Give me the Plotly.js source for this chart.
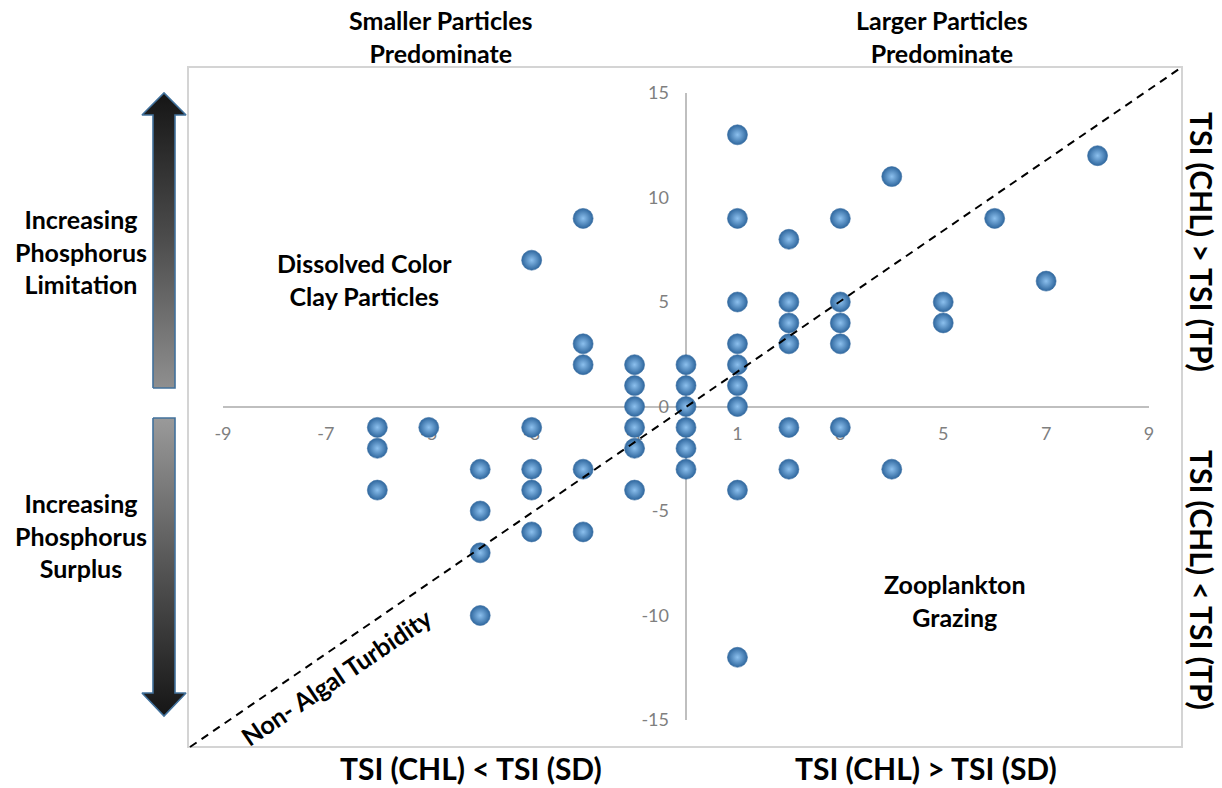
<!DOCTYPE html>
<html>
<head>
<meta charset="utf-8">
<script src="https://cdn.plot.ly/plotly-3.0.1.min.js"></script>
<style>
  html, body { margin: 0; padding: 0; background: #ffffff; }
  #chart { width: 1222px; height: 788px; }
</style>
</head>
<body>
<div id="chart"></div>
<script>
// TSI deviation plot: TSI(CHL) - TSI(SD) on x, TSI(CHL) - TSI(TP) on y
const deviationSD = [
  -3, -2, -2, -2, -1, -1, -1, 0, 0, 0,
  1, 1, 1, 1, 1, 1, 1, 2, 2, 2, 2, 3, 3, 3, 3, 4, 5, 5, 6, 7, 8,
  -6, -6, -6, -5, -4, -4, -4, -4, -3, -3, -3, -3, -2, -2, -1, -1, -1, 0, 0, 0,
  1, 1, 2, 2, 3, 4
];
const deviationTP = [
  7, 9, 3, 2, 2, 1, 0, 2, 1, 0,
  13, 9, 5, 3, 2, 1, 0, 8, 5, 4, 3, 9, 5, 4, 3, 11, 5, 4, 9, 6, 12,
  -1, -2, -4, -1, -3, -5, -7, -10, -1, -3, -4, -6, -3, -6, -1, -2, -4, -1, -2, -3,
  -4, -12, -1, -3, -1, -3
];

const xTickVals = [-9, -7, -5, -3, -1, 1, 3, 5, 7, 9];
const xTickText = ['-9', '-7', '-5', '-3', '-1', '1', '3', '5', '7', '9'];
const yTickVals = [-15, -10, -5, 0, 5, 10, 15];
const yTickText = ['-15', '-10', '-5', '0', '5', '10', '15'];
const xRange = [-9, 9];
const yRange = [-15, 15];

// Figure size and where the data axes sit inside it
const W = 1222, H = 788;
const xDomain = [223 / W, 1149 / W];
const yDomain = [(H - 720) / H, (H - 93) / H];

// paper position of the zero value on each axis, so the axes cross at the origin
const xZeroPaper = xDomain[0] + (0 - xRange[0]) / (xRange[1] - xRange[0]) * (xDomain[1] - xDomain[0]);
const yZeroPaper = yDomain[0] + (0 - yRange[0]) / (yRange[1] - yRange[0]) * (yDomain[1] - yDomain[0]);

const family = 'Lato, "Open Sans", sans-serif';
const labelFont = { family: family, size: 25, color: '#000000', weight: 'bold' };
const sideFont = { family: family, size: 30, color: '#000000', weight: 'bold' };
const tickFont = { family: family, size: 18, color: '#7f7f7f' };

const points = {
  type: 'scatter',
  mode: 'markers',
  x: deviationSD,
  y: deviationTP,
  xaxis: 'x', yaxis: 'y',
  cliponaxis: false,
  marker: {
    size: 20,
    color: '#2f679e',
    gradient: { type: 'radial', color: '#8cc0ee' },
    line: { color: '#3b6fa3', width: 0.6 }
  },
  hoverinfo: 'x+y',
  showlegend: false
};

// Block arrows in the left margin, drawn on a pixel-space overlay
const arrowUpX = [153, 175, 175, 186, 164, 142, 153, 153];
const arrowUpY = [388, 388, 115, 115, 93, 115, 115, 388];
const arrowDownX = [153, 175, 175, 186, 164, 142, 153, 153];
const arrowDownY = [418, 418, 693, 693, 716, 693, 693, 418];

const arrowUp = {
  type: 'scatter', mode: 'lines', xaxis: 'x2', yaxis: 'y2',
  x: arrowUpX, y: arrowUpY, fill: 'toself',
  fillgradient: { type: 'vertical', start: 93, stop: 388,
    colorscale: [[0, '#151515'], [0.5, '#4d4d4d'], [1, '#8f8f8f']] },
  line: { color: '#41719c', width: 1.6 },
  hoverinfo: 'skip', showlegend: false
};
const arrowDown = {
  type: 'scatter', mode: 'lines', xaxis: 'x2', yaxis: 'y2',
  x: arrowDownX, y: arrowDownY, fill: 'toself',
  fillgradient: { type: 'vertical', start: 418, stop: 716,
    colorscale: [[0, '#9a9a9a'], [0.5, '#555555'], [1, '#151515']] },
  line: { color: '#41719c', width: 1.6 },
  hoverinfo: 'skip', showlegend: false
};

function note(text, x, y, font, angle) {
  return {
    text: text, x: x, y: y, xref: 'x2', yref: 'y2',
    showarrow: false, xanchor: 'center', yanchor: 'middle',
    align: 'center', font: font, textangle: angle || 0
  };
}

const layout = {
  width: W, height: H,
  margin: { l: 0, r: 0, t: 0, b: 0 },
  paper_bgcolor: '#ffffff',
  plot_bgcolor: 'rgba(0,0,0,0)',
  showlegend: false,
  hovermode: 'closest',
  xaxis: {
    domain: xDomain, range: xRange, anchor: 'free', position: yZeroPaper,
    tickmode: 'array', tickvals: xTickVals, ticktext: xTickText,
    ticks: '', ticklabelstandoff: 14, tickfont: tickFont,
    showgrid: false, showline: false,
    zeroline: true, zerolinecolor: '#bfbfbf', zerolinewidth: 2,
    layer: 'below traces', fixedrange: true
  },
  yaxis: {
    domain: yDomain, range: yRange, anchor: 'free', position: xZeroPaper,
    tickmode: 'array', tickvals: yTickVals, ticktext: yTickText,
    ticks: '', ticklabelstandoff: 17, tickfont: tickFont,
    showgrid: false, showline: false,
    zeroline: true, zerolinecolor: '#bfbfbf', zerolinewidth: 2,
    layer: 'below traces', fixedrange: true
  },
  xaxis2: { domain: [0, 1], range: [0, W], visible: false, fixedrange: true, anchor: 'y2' },
  yaxis2: { domain: [0, 1], range: [H, 0], visible: false, fixedrange: true, anchor: 'x2' },
  shapes: [
    // frame around the chart area
    { type: 'rect', xref: 'x2', yref: 'y2', x0: 188, y0: 67, x1: 1182, y1: 747,
      line: { color: '#d4d4d4', width: 2 }, fillcolor: 'rgba(0,0,0,0)', layer: 'below' },
    // non-algal turbidity diagonal
    { type: 'line', xref: 'x2', yref: 'y2', x0: 190, y0: 747, x1: 1182, y1: 67,
      line: { color: '#000000', width: 2, dash: '8px,6px' }, layer: 'above' }
  ],
  annotations: [
    note('Smaller Particles<br>Predominate', 441, 36, labelFont),
    note('Larger Particles<br>Predominate', 942, 36, labelFont),
    note('Dissolved Color<br>Clay Particles', 364, 279, labelFont),
    note('Zooplankton<br>Grazing', 955, 600, labelFont),
    note('Increasing<br>Phosphorus<br>Limitation', 81, 251, labelFont),
    note('Increasing<br>Phosphorus<br>Surplus', 81, 535, labelFont),
    note('TSI (CHL) < TSI (SD)', 471, 768, sideFont),
    note('TSI (CHL) > TSI (SD)', 926, 768, sideFont),
    note('TSI (CHL) > TSI (TP)', 1202, 242, sideFont, 90),
    note('TSI (CHL) < TSI (TP)', 1202, 580, sideFont, 90),
    note('Non- Algal Turbidity', 336, 677,
      { family: family, size: 25, color: '#000000', weight: 'bold' }, -34)
  ]
};

Plotly.newPlot('chart', [arrowUp, arrowDown, points], layout, { displayModeBar: false, staticPlot: true });
</script>
</body>
</html>
